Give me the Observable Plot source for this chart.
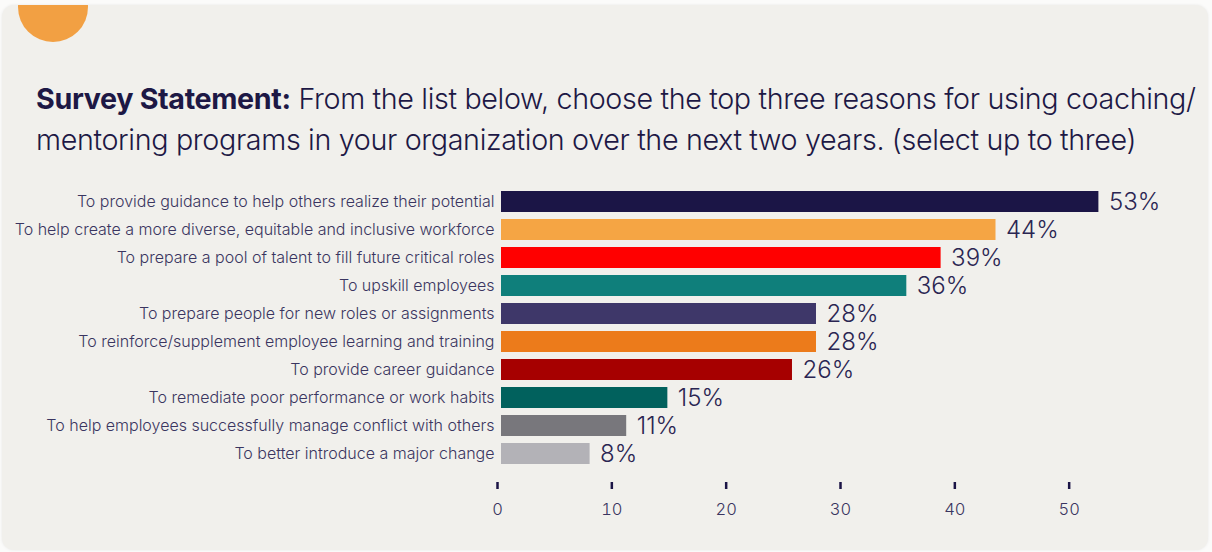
<!DOCTYPE html>
<html>
<head>
<meta charset="utf-8">
<script src="https://cdn.jsdelivr.net/npm/d3@7"></script>
<script src="https://cdn.jsdelivr.net/npm/@observablehq/plot@0.6"></script>
<style>
  html, body { margin: 0; padding: 0; background: #fbfbfa; width: 1212px; height: 552px; overflow: hidden; }
  .card { position: absolute; left: 2px; top: 5px; width: 1206px; height: 545px; background: #f1f0ec; border-radius: 12px; overflow: hidden; box-shadow: 0 0 3px rgba(0,0,0,0.08); }
  .dot { position: absolute; left: 16px; top: -33px; width: 70px; height: 70px; border-radius: 50%; background: #f2a043; }
  .title { position: absolute; left: 34px; top: 73px; width: 1172px; font-family: Inter, "Noto Sans", sans-serif; font-size: 28.7px; line-height: 41px; color: #1d1845; font-weight: 300; letter-spacing: -0.35px; white-space: nowrap; }
  .title b { font-weight: 700; }
  #chart { position: absolute; left: 0; top: 170px; }
</style>
</head>
<body>
<div class="card">
  <div class="dot"></div>
  <div class="title">
    <div><b>Survey Statement:</b> <span>From the list below, choose the top three reasons for using coaching/</span></div>
    <div>mentoring programs in your organization over the next two years. (select up to three)</div>
  </div>
</div>
<div id="chart"></div>
<script>
const categories = [
  "To provide guidance to help others realize their potential",
  "To help create a more diverse, equitable and inclusive workforce",
  "To prepare a pool of talent to fill future critical roles",
  "To upskill employees",
  "To prepare people for new roles or assignments",
  "To reinforce/supplement employee learning and training",
  "To provide career guidance",
  "To remediate poor performance or work habits",
  "To help employees successfully manage conflict with others",
  "To better introduce a major change"
];
const values = [52.6, 43.6, 38.8, 35.8, 27.9, 27.9, 25.8, 14.9, 11.3, 8.1];
const valueLabels = ["53%", "44%", "39%", "36%", "28%", "28%", "26%", "15%", "11%", "8%"];
const colors = ["#1b1546", "#f5a544", "#ff0000", "#0f7f7b", "#3e3769", "#ec7b1b", "#a60000", "#01615d", "#78777c", "#b3b2b7"];
const xTicks = [0, 10, 20, 30, 40, 50];

const data = categories.map((c, i) => ({category: c, value: values[i], label: valueLabels[i]}));

const chart = Plot.plot({
  width: 1212,
  height: 360,
  marginLeft: 497,
  marginRight: 29,
  marginTop: 16,
  marginBottom: 48,
  insetBottom: 14,
  style: {background: "transparent", fontFamily: "Inter, 'Noto Sans', sans-serif", color: "#3a3560"},
  x: {domain: [0, 60], ticks: xTicks, label: null},
  y: {domain: categories, paddingInner: 0.25, paddingOuter: 0.125, label: null},
  color: {domain: categories, range: colors},
  marks: [
    Plot.barX(data, {y: "category", x: "value", fill: "category", insetLeft: 4}),
    Plot.text(data, {y: "category", x: "value", text: "label", dx: 10, textAnchor: "start", fontSize: 24, fontWeight: 300, fill: "#2a2552"}),
    Plot.axisY({tickSize: 0, tickPadding: 3, fontSize: 16, fontWeight: 300, fill: "#3a3560", label: null}),
    Plot.axisX({ticks: xTicks, tickSize: 7, tickPadding: 14, stroke: "#1b1546", strokeWidth: 2.5, fontSize: 16.5, fontWeight: 300, fill: "#3a3560", label: null})
  ]
});
document.getElementById("chart").appendChild(chart);
</script>
</body>
</html>
